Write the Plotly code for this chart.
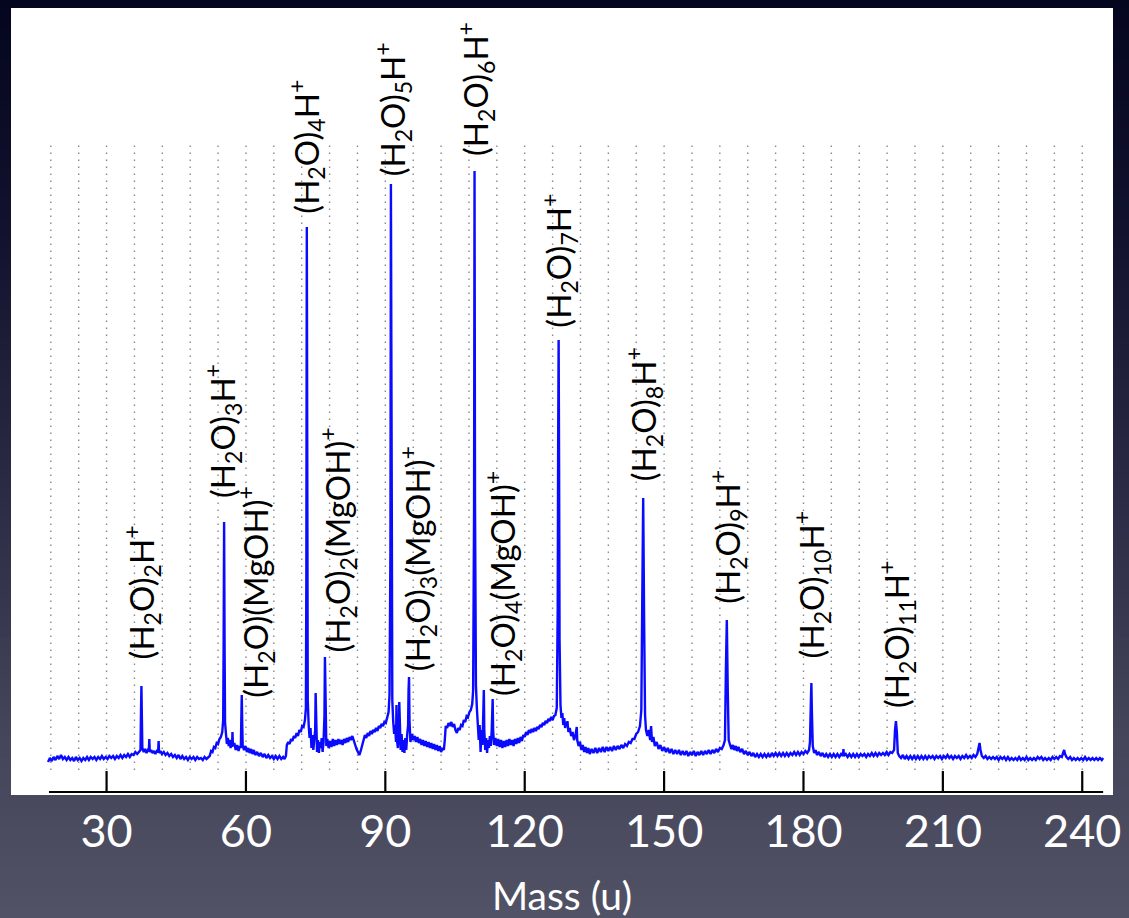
import plotly.graph_objects as go

# ---------------------------------------------------------------------------
# Mass spectrum of protonated water clusters (mass in u, intensity arb. units)
# ---------------------------------------------------------------------------
spectrum = [
    (17.4, 8), (17.8, 12), (18.2, 9), (18.6, 13), (19.0, 10), (19.4, 14), (19.8, 11), (20.2, 15),
    (20.6, 11), (21.0, 13), (21.4, 10), (21.8, 13), (22.2, 10), (22.6, 12), (23.0, 9), (23.4, 13),
    (23.8, 10), (24.2, 12), (24.6, 9), (25.0, 12), (25.4, 10), (25.8, 13), (26.2, 10), (26.6, 13),
    (27.0, 11), (27.4, 13), (27.8, 10), (28.2, 13), (28.6, 11), (29.0, 14), (29.4, 11), (29.8, 13),
    (30.2, 11), (30.6, 14), (31.0, 12), (31.4, 14), (31.8, 11), (32.2, 14), (32.6, 12), (33.0, 15),
    (33.4, 12), (33.8, 15), (34.2, 13), (34.6, 16), (35.0, 13), (35.4, 16), (35.8, 15), (36.2, 18),
    (36.6, 16), (37.0, 19), (37.3, 20), (37.4, 55), (37.5, 84), (37.6, 52), (37.7, 22), (38.0, 18),
    (38.3, 21), (38.6, 17), (38.9, 20), (39.1, 19), (39.2, 31), (39.3, 18), (39.6, 20), (39.9, 17),
    (40.2, 19), (40.5, 16), (40.8, 19), (41.1, 18), (41.2, 29), (41.3, 17), (41.6, 19), (41.9, 16),
    (42.3, 18), (42.7, 15), (43.1, 17), (43.5, 14), (43.9, 16), (44.3, 13), (44.7, 15), (45.1, 12),
    (45.5, 15), (45.9, 11), (46.3, 14), (46.7, 11), (47.1, 13), (47.5, 10), (47.9, 13), (48.3, 11),
    (48.7, 13), (49.1, 10), (49.5, 13), (49.9, 11), (50.3, 12), (50.7, 10), (51.1, 13), (51.5, 11),
    (51.9, 13), (52.2, 14), (52.5, 19), (52.8, 18), (53.1, 23), (53.4, 22), (53.7, 27), (54.0, 26),
    (54.3, 31), (54.6, 33), (54.9, 38), (55.1, 50), (55.2, 130), (55.3, 248), (55.4, 125), (55.5, 48),
    (55.7, 36), (55.9, 26), (56.1, 32), (56.3, 24), (56.5, 30), (56.7, 22), (56.9, 27), (57.0, 23),
    (57.1, 38), (57.2, 24), (57.5, 27), (57.8, 20), (58.1, 25), (58.4, 19), (58.7, 24), (58.9, 22),
    (59.0, 50), (59.1, 75), (59.2, 45), (59.3, 24), (59.6, 20), (59.9, 24), (60.2, 18), (60.5, 22),
    (60.8, 17), (61.1, 21), (61.4, 16), (61.7, 20), (62.0, 15), (62.4, 18), (62.8, 14), (63.2, 17),
    (63.6, 13), (64.0, 16), (64.4, 12), (64.8, 15), (65.2, 12), (65.6, 14), (66.0, 11), (66.4, 14),
    (66.8, 11), (67.2, 14), (67.6, 11), (68.0, 13), (68.3, 11), (68.6, 14), (68.8, 25), (69.1, 28),
    (69.4, 26), (69.7, 31), (70.0, 29), (70.3, 34), (70.6, 32), (70.9, 37), (71.2, 34), (71.5, 40),
    (71.8, 38), (72.1, 44), (72.4, 43), (72.7, 50), (72.9, 62), (73.0, 190), (73.1, 543), (73.2, 210),
    (73.3, 70), (73.5, 45), (73.7, 32), (73.9, 42), (74.1, 22), (74.3, 35), (74.5, 20), (74.7, 30),
    (74.9, 40), (75.0, 77), (75.1, 38), (75.3, 18), (75.5, 30), (75.7, 17), (75.9, 28), (76.1, 22),
    (76.3, 32), (76.5, 18), (76.7, 28), (76.9, 55), (77.0, 113), (77.1, 55), (77.3, 24), (77.5, 31),
    (77.8, 22), (78.1, 29), (78.4, 23), (78.7, 31), (79.0, 24), (79.3, 30), (79.6, 25), (79.9, 31),
    (80.2, 26), (80.5, 30), (80.8, 25), (81.1, 31), (81.4, 27), (81.7, 32), (82.0, 28), (82.3, 33),
    (82.6, 30), (82.9, 34), (83.2, 29), (83.5, 26), (83.8, 21), (84.1, 18), (84.4, 15), (84.7, 19),
    (85.0, 24), (85.3, 30), (85.6, 35), (85.9, 32), (86.2, 37), (86.5, 34), (86.8, 39), (87.1, 36),
    (87.4, 40), (87.7, 38), (88.0, 42), (88.3, 39), (88.6, 44), (88.9, 42), (89.2, 46), (89.5, 44),
    (89.8, 48), (90.1, 47), (90.4, 52), (90.7, 58), (90.9, 75), (91.1, 220), (91.2, 586), (91.3, 240),
    (91.5, 70), (91.7, 48), (91.9, 36), (92.1, 45), (92.3, 28), (92.4, 65), (92.5, 30), (92.7, 22),
    (92.9, 40), (93.0, 68), (93.1, 38), (93.3, 20), (93.5, 36), (93.7, 18), (93.9, 30), (94.1, 17),
    (94.3, 32), (94.5, 20), (94.7, 35), (94.9, 45), (95.0, 80), (95.1, 93), (95.2, 50), (95.4, 28),
    (95.7, 36), (96.0, 30), (96.3, 34), (96.6, 28), (96.9, 33), (97.2, 27), (97.5, 31), (97.8, 25),
    (98.1, 30), (98.4, 24), (98.7, 29), (99.0, 23), (99.3, 28), (99.6, 22), (99.9, 27), (100.2, 21),
    (100.5, 26), (100.8, 20), (101.1, 25), (101.4, 19), (101.7, 24), (102.0, 18), (102.3, 22), (102.6, 20),
    (102.8, 30), (103.0, 44), (103.3, 42), (103.6, 47), (103.9, 44), (104.2, 48), (104.5, 43), (104.8, 46),
    (105.1, 40), (105.4, 37), (105.7, 42), (106.0, 40), (106.3, 45), (106.6, 44), (106.9, 50), (107.2, 48),
    (107.5, 54), (107.8, 53), (108.1, 58), (108.4, 60), (108.7, 66), (108.9, 80), (109.1, 260), (109.2, 599),
    (109.3, 270), (109.5, 85), (109.7, 62), (109.9, 50), (110.1, 30), (110.3, 45), (110.5, 18), (110.7, 40),
    (110.9, 25), (111.1, 60), (111.2, 80), (111.3, 40), (111.5, 20), (111.7, 32), (111.9, 17), (112.1, 30),
    (112.3, 22), (112.5, 34), (112.7, 24), (112.9, 40), (113.0, 60), (113.1, 71), (113.2, 40), (113.4, 25),
    (113.7, 32), (114.0, 24), (114.3, 31), (114.6, 23), (114.9, 30), (115.2, 22), (115.5, 29), (115.8, 23),
    (116.1, 30), (116.4, 24), (116.7, 31), (117.0, 25), (117.3, 30), (117.6, 24), (117.9, 31), (118.2, 26),
    (118.5, 32), (118.8, 27), (119.1, 33), (119.4, 29), (119.7, 35), (120.0, 33), (120.3, 38), (120.6, 35),
    (120.9, 40), (121.2, 37), (121.5, 41), (121.8, 38), (122.1, 42), (122.4, 39), (122.7, 43), (123.0, 41),
    (123.3, 45), (123.6, 43), (123.9, 47), (124.2, 45), (124.5, 49), (124.8, 47), (125.1, 51), (125.4, 49),
    (125.7, 53), (126.0, 50), (126.3, 54), (126.6, 55), (126.9, 62), (127.1, 160), (127.2, 330), (127.3, 430),
    (127.4, 300), (127.5, 130), (127.7, 65), (127.9, 52), (128.1, 57), (128.3, 45), (128.5, 52), (128.7, 42),
    (128.9, 48), (129.1, 44), (129.2, 49), (129.4, 38), (129.7, 42), (130.0, 34), (130.3, 38), (130.6, 30),
    (130.9, 34), (131.1, 40), (131.2, 43), (131.3, 30), (131.6, 24), (131.9, 28), (132.2, 20), (132.5, 25),
    (132.8, 18), (133.1, 23), (133.4, 17), (133.7, 22), (134.0, 16), (134.4, 21), (134.8, 17), (135.2, 22),
    (135.6, 17), (136.0, 22), (136.4, 18), (136.8, 23), (137.2, 18), (137.6, 23), (138.0, 19), (138.4, 23),
    (138.8, 19), (139.2, 24), (139.6, 20), (140.0, 24), (140.4, 21), (140.8, 25), (141.2, 22), (141.6, 26),
    (142.0, 24), (142.4, 28), (142.8, 27), (143.2, 31), (143.6, 31), (144.0, 36), (144.4, 38), (144.8, 44),
    (145.1, 60), (145.3, 170), (145.5, 272), (145.7, 150), (145.9, 55), (146.1, 40), (146.4, 34), (146.7, 40),
    (147.0, 30), (147.2, 44), (147.4, 28), (147.7, 33), (148.0, 24), (148.4, 28), (148.8, 21), (149.2, 25),
    (149.6, 19), (150.0, 23), (150.4, 18), (150.8, 22), (151.2, 17), (151.6, 21), (152.0, 16), (152.4, 20),
    (152.8, 16), (153.2, 20), (153.6, 15), (154.0, 19), (154.4, 15), (154.8, 19), (155.2, 14), (155.6, 18),
    (156.0, 15), (156.4, 19), (156.8, 14), (157.2, 18), (157.6, 15), (158.0, 19), (158.4, 15), (158.8, 19),
    (159.2, 16), (159.6, 20), (160.0, 16), (160.4, 20), (160.8, 17), (161.2, 21), (161.6, 18), (162.0, 22),
    (162.4, 21), (162.8, 25), (163.1, 30), (163.3, 100), (163.5, 150), (163.7, 80), (163.9, 30), (164.2, 25),
    (164.5, 21), (164.8, 25), (165.1, 20), (165.4, 24), (165.7, 19), (166.0, 23), (166.4, 18), (166.8, 21),
    (167.2, 16), (167.6, 19), (168.0, 15), (168.4, 18), (168.8, 14), (169.2, 17), (169.6, 13), (170.0, 16),
    (170.4, 13), (170.8, 16), (171.2, 13), (171.6, 16), (172.0, 13), (172.4, 16), (172.8, 13), (173.2, 17),
    (173.6, 14), (174.0, 17), (174.4, 14), (174.8, 17), (175.2, 14), (175.6, 17), (176.0, 14), (176.4, 17),
    (176.8, 14), (177.2, 17), (177.6, 15), (178.0, 18), (178.4, 15), (178.8, 18), (179.2, 15), (179.6, 18),
    (180.0, 16), (180.4, 19), (180.8, 17), (181.2, 20), (181.4, 28), (181.6, 70), (181.7, 87), (181.8, 60),
    (182.0, 24), (182.3, 17), (182.6, 20), (182.9, 15), (183.3, 18), (183.7, 14), (184.1, 17), (184.5, 13),
    (184.9, 16), (185.3, 13), (185.7, 16), (186.1, 13), (186.5, 16), (186.9, 13), (187.3, 16), (187.7, 13),
    (188.1, 16), (188.5, 14), (188.6, 21), (188.7, 14), (189.1, 16), (189.5, 13), (189.9, 16), (190.3, 13),
    (190.7, 16), (191.1, 13), (191.5, 16), (191.9, 13), (192.3, 16), (192.7, 14), (193.1, 16), (193.5, 13),
    (193.9, 16), (194.3, 14), (194.7, 17), (195.1, 14), (195.5, 17), (195.9, 14), (196.3, 17), (196.7, 15),
    (197.1, 17), (197.5, 15), (197.9, 18), (198.3, 15), (198.7, 18), (199.1, 17), (199.5, 20), (199.7, 40),
    (199.9, 49), (200.1, 38), (200.3, 17), (200.6, 14), (201.0, 12), (201.4, 15), (201.8, 11), (202.2, 14),
    (202.6, 11), (203.0, 14), (203.4, 11), (203.8, 14), (204.2, 11), (204.6, 14), (205.0, 11), (205.4, 14),
    (205.8, 11), (206.2, 14), (206.6, 11), (207.0, 14), (207.4, 12), (207.8, 14), (208.2, 11), (208.6, 14),
    (209.0, 12), (209.4, 14), (209.8, 11), (210.2, 14), (210.6, 12), (211.0, 15), (211.4, 12), (211.8, 14),
    (212.2, 11), (212.6, 14), (213.0, 12), (213.4, 14), (213.8, 11), (214.2, 14), (214.6, 12), (215.0, 15),
    (215.4, 12), (215.8, 14), (216.2, 12), (216.6, 15), (217.0, 13), (217.4, 16), (217.7, 22), (217.9, 27),
    (218.1, 20), (218.4, 14), (218.8, 12), (219.2, 14), (219.6, 11), (220.0, 13), (220.4, 11), (220.8, 13),
    (221.2, 11), (221.6, 13), (222.0, 10), (222.4, 13), (222.8, 11), (223.2, 13), (223.6, 10), (224.0, 13),
    (224.4, 10), (224.8, 12), (225.2, 10), (225.6, 12), (226.0, 10), (226.4, 13), (226.8, 10), (227.2, 12),
    (227.6, 10), (228.0, 13), (228.4, 10), (228.8, 12), (229.2, 10), (229.6, 12), (230.0, 10), (230.4, 13),
    (230.8, 11), (231.2, 13), (231.6, 10), (232.0, 12), (232.4, 10), (232.8, 12), (233.2, 10), (233.6, 13),
    (234.0, 11), (234.4, 13), (234.8, 11), (235.2, 14), (235.6, 13), (235.9, 18), (236.1, 20), (236.3, 16),
    (236.6, 13), (237.0, 11), (237.4, 13), (237.8, 10), (238.2, 12), (238.6, 10), (239.0, 12), (239.4, 10),
    (239.8, 12), (240.2, 10), (240.6, 13), (241.0, 10), (241.4, 12), (241.8, 10), (242.2, 12), (242.6, 10),
    (243.0, 12), (243.4, 10), (243.8, 12), (244.2, 10), (244.5, 12),
]
mass = [p[0] for p in spectrum]
intensity = [p[1] for p in spectrum]

# Cluster assignments
peak_labels = [
    "(H<sub>2</sub>O)<sub>2</sub>H<sup>+</sup>",
    "(H<sub>2</sub>O)<sub>3</sub>H<sup>+</sup>",
    "(H<sub>2</sub>O)(MgOH)<sup>+</sup>",
    "(H<sub>2</sub>O)<sub>4</sub>H<sup>+</sup>",
    "(H<sub>2</sub>O)<sub>2</sub>(MgOH)<sup>+</sup>",
    "(H<sub>2</sub>O)<sub>5</sub>H<sup>+</sup>",
    "(H<sub>2</sub>O)<sub>3</sub>(MgOH)<sup>+</sup>",
    "(H<sub>2</sub>O)<sub>6</sub>H<sup>+</sup>",
    "(H<sub>2</sub>O)<sub>4</sub>(MgOH)<sup>+</sup>",
    "(H<sub>2</sub>O)<sub>7</sub>H<sup>+</sup>",
    "(H<sub>2</sub>O)<sub>8</sub>H<sup>+</sup>",
    "(H<sub>2</sub>O)<sub>9</sub>H<sup>+</sup>",
    "(H<sub>2</sub>O)<sub>10</sub>H<sup>+</sup>",
    "(H<sub>2</sub>O)<sub>11</sub>H<sup>+</sup>",
]
# label centre positions (mass, intensity)
label_x = [37.5, 54.85, 61.9, 72.85, 79.7, 91.5, 96.85, 109.3, 115.1, 127.3, 145.5, 163.5, 181.7, 199.9]
label_y = [178, 339, 178, 623, 230, 661, 211, 681, 187, 509, 356, 233, 185, 136]

tick_vals = [30, 60, 90, 120, 150, 180, 210, 240]
grid_vals = list(range(18, 241, 6))

# ---------------------------------------------------------------------------
W, H = 1129, 918
ML, MR, MT, MB = 11, 11, 8, 123
X_RANGE = [9.43, 246.62]
Y_RANGE = [-25, 762]
FONT = "Lato"

fig = go.Figure()
fig.add_trace(go.Scatter(
    x=mass, y=intensity, mode="lines",
    line=dict(color="#0a0aff", width=2.4),
    hoverinfo="skip", showlegend=False,
))

shapes = []

# slide-style dark gradient background, drawn as thin horizontal bands
stops = [(0.0, (4, 5, 30)), (0.25, (18, 18, 46)), (0.55, (44, 44, 70)),
         (0.8, (68, 68, 90)), (1.0, (82, 82, 102))]
pw, ph = W - ML - MR, H - MT - MB
n_bands = 92
for i in range(n_bands):
    f0, f1 = i / n_bands, (i + 1) / n_bands
    fm = (f0 + f1) / 2
    for (a, ca), (b, cb) in zip(stops[:-1], stops[1:]):
        if a <= fm <= b:
            t = (fm - a) / (b - a)
            c = tuple(round(ca[k] + (cb[k] - ca[k]) * t) for k in range(3))
            break
    y_top = (MT + ph - f0 * H) / ph
    y_bot = (MT + ph - f1 * H) / ph
    shapes.append(dict(type="rect", xref="paper", yref="paper",
                       x0=-ML / pw - 0.01, x1=1 + MR / pw + 0.01,
                       y0=y_bot - 0.002, y1=y_top + 0.002,
                       fillcolor="rgb(%d,%d,%d)" % c, line=dict(width=0), layer="below"))

# white chart panel
shapes.append(dict(type="rect", xref="paper", yref="paper", x0=0, x1=1, y0=0, y1=1,
                   fillcolor="white", line=dict(width=0), layer="below"))

# dotted vertical grid
for g in grid_vals:
    shapes.append(dict(type="line", xref="x", yref="y", x0=g, x1=g, y0=0, y1=626,
                       line=dict(color="#8a8a8a", width=1.4, dash="1.5px,5.5px"), layer="below"))

# mass axis line and inward ticks
shapes.append(dict(type="line", xref="x", yref="y", x0=17.6, x1=244.5, y0=-22, y1=-22,
                   line=dict(color="black", width=2.2)))
for t in tick_vals:
    shapes.append(dict(type="line", xref="x", yref="y", x0=t, x1=t, y0=-22, y1=-1,
                       line=dict(color="black", width=2.2)))

annotations = []
for txt, lx, ly in zip(peak_labels, label_x, label_y):
    annotations.append(dict(x=lx, y=ly, xref="x", yref="y", text=txt, textangle=-90,
                            showarrow=False, xanchor="center", yanchor="middle",
                            font=dict(family=FONT, size=33, color="black")))

fig.update_layout(
    width=W, height=H,
    margin=dict(l=ML, r=MR, t=MT, b=MB),
    paper_bgcolor="rgb(40,40,62)",
    plot_bgcolor="white",
    shapes=shapes,
    annotations=annotations,
    xaxis=dict(range=X_RANGE, showgrid=False, zeroline=False, showline=False,
               tickvals=tick_vals, ticks="", ticklabelstandoff=6,
               tickfont=dict(family=FONT, size=45, color="white"),
               title=dict(text="Mass (u)", font=dict(family=FONT, size=39, color="white"),
                          standoff=26)),
    yaxis=dict(range=Y_RANGE, visible=False),
)

fig.write_html("out.html")
